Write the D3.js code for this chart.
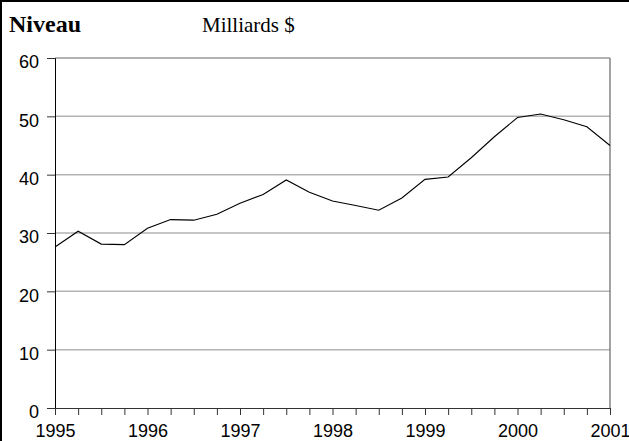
<!DOCTYPE html>
<html><head><meta charset="utf-8">
<script src="https://cdn.jsdelivr.net/npm/d3@7"></script>
<style>html,body{margin:0;padding:0;background:#fff;}svg{display:block;}</style>
</head><body>
<script>
const quarters = [1995.0,1995.25,1995.5,1995.75,1996.0,1996.25,1996.5,1996.75,1997.0,1997.25,1997.5,1997.75,1998.0,1998.25,1998.5,1998.75,1999.0,1999.25,1999.5,1999.75,2000.0,2000.25,2000.5,2000.75,2001.0];
const values = [27.6,30.3,28.1,28.0,30.8,32.3,32.2,33.2,35.1,36.6,39.1,37.0,35.5,34.7,33.9,36.0,39.2,39.6,42.9,46.5,49.8,50.4,49.4,48.2,45.0];
const yTicks = [0,10,20,30,40,50,60];
const yearTicks = [1995,1996,1997,1998,1999,2000,2001];
const title = "Niveau";
const unit = "Milliards $";

const W = 629, H = 441;
const pL = 55, pR = 610, pT = 58, pB = 408;
const svg = d3.select("body").append("svg").attr("width", W).attr("height", H);

const x = d3.scaleLinear().domain([1995, 2001]).range([pL, pR]);
const y = d3.scaleLinear().domain([0, 60]).range([pB, pT]);

// outer frame (left & top visible)
svg.append("line").attr("x1",1).attr("x2",1).attr("y1",0).attr("y2",H).attr("stroke","#000").attr("stroke-width",2);
svg.append("line").attr("x1",0).attr("x2",W).attr("y1",1).attr("y2",1).attr("stroke","#000").attr("stroke-width",2);

// gridlines
svg.append("g").selectAll("line").data(yTicks.filter(d => d > 0 && d < 60)).join("line")
  .attr("x1", pL).attr("x2", pR).attr("y1", d => y(d)).attr("y2", d => y(d))
  .attr("stroke", "#b3b3b3").attr("stroke-width", 1.5);

// plot border top & right
svg.append("line").attr("x1", pL).attr("x2", pR).attr("y1", y(60)).attr("y2", y(60)).attr("stroke", "#666").attr("stroke-width", 1.2);
svg.append("line").attr("x1", pR).attr("x2", pR).attr("y1", y(60)).attr("y2", pB).attr("stroke", "#666").attr("stroke-width", 1.2);

// y axis
const yAxis = d3.axisLeft(y).tickValues(yTicks).tickSize(8).tickPadding(8).tickFormat(d3.format("d"));
const gy = svg.append("g").attr("transform", `translate(${pL},0)`).call(yAxis);
gy.select(".domain").attr("stroke", "#000");
gy.selectAll(".tick line").attr("stroke", "#333");
gy.selectAll("text").attr("font-family", "'Liberation Sans', Arial, sans-serif").attr("font-size", 18).attr("fill", "#000").attr("dy", "0.55em");

// x axis
const xAxis = d3.axisBottom(x).tickValues(quarters).tickSize(7).tickSizeOuter(0).tickPadding(3)
  .tickFormat(d => Number.isInteger(d) ? String(d) : "");
const gx = svg.append("g").attr("transform", `translate(0,${pB})`).call(xAxis);
gx.select(".domain").attr("stroke", "#333");
gx.selectAll(".tick line").attr("stroke", "#333");
gx.selectAll("text").attr("font-family", "'Liberation Sans', Arial, sans-serif").attr("font-size", 18).attr("fill", "#000").attr("dy", 19);

// line
const line = d3.line().x((d, i) => x(quarters[i])).y(d => y(d));
svg.append("path").datum(values).attr("d", line).attr("fill", "none").attr("stroke", "#000").attr("stroke-width", 1.1);

// titles
svg.append("text").attr("x", 9).attr("y", 32).text(title)
  .attr("font-family", "'Liberation Serif', 'Times New Roman', serif").attr("font-weight", "bold").attr("font-size", 24);
svg.append("text").attr("x", 202).attr("y", 32).text(unit)
  .attr("font-family", "'Liberation Serif', 'Times New Roman', serif").attr("font-size", 21);
</script>
</body></html>
